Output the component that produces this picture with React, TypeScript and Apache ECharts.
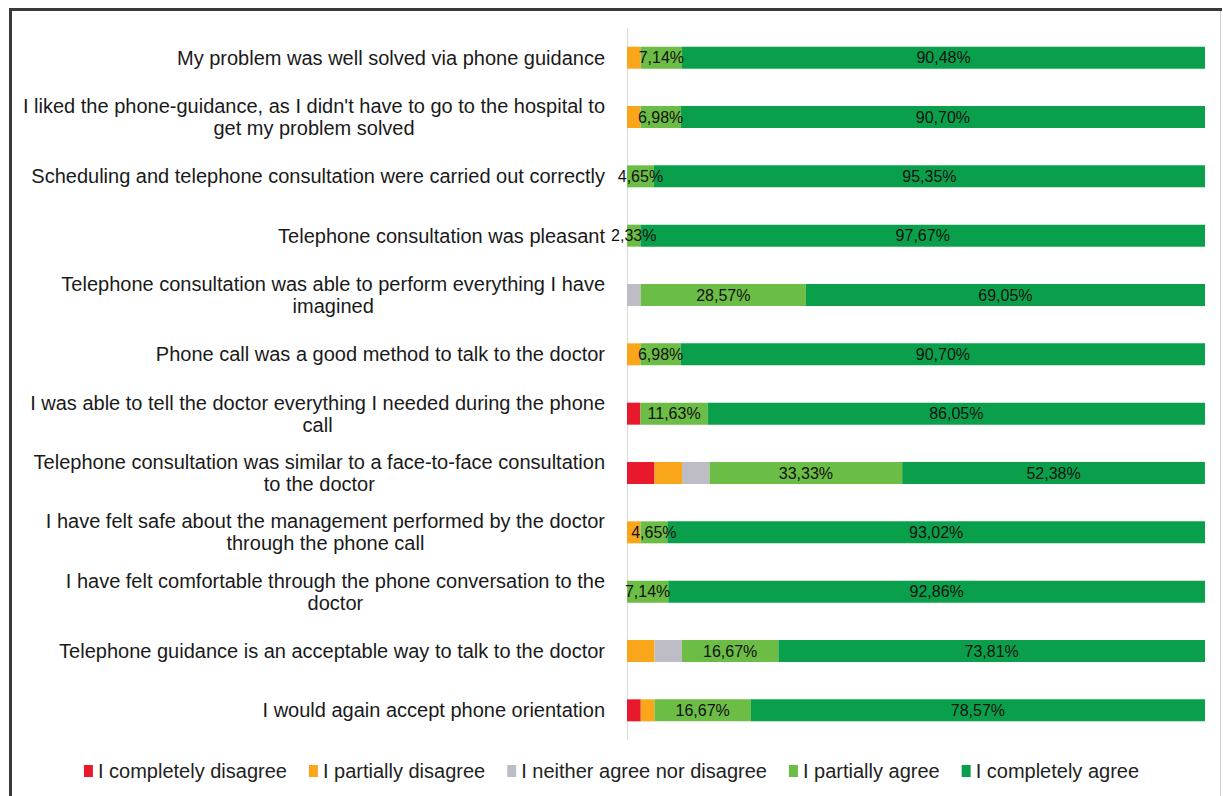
import React, { useEffect, useRef } from "react";
import * as echarts from "echarts";

const categories: string[] = [
  "My problem was well solved via phone guidance",
  "I liked the phone-guidance, as I didn't have to go to the hospital to\nget my problem solved",
  "Scheduling and telephone consultation were carried out correctly",
  "Telephone consultation was pleasant",
  "Telephone consultation was able to perform everything I have\nimagined",
  "Phone call was a good method to talk to the doctor",
  "I was able to tell the doctor everything I needed during the phone\ncall",
  "Telephone consultation was similar to a face-to-face consultation\nto the doctor",
  "I have felt safe about the management performed by the doctor\nthrough the phone call",
  "I have felt comfortable through the phone conversation to the\ndoctor",
  "Telephone guidance is an acceptable way to talk to the doctor",
  "I would again accept phone orientation",
];

const seriesNames: string[] = [
  "I completely disagree",
  "I partially disagree",
  "I neither agree nor disagree",
  "I partially agree",
  "I completely agree",
];

const completelyDisagree: number[] = [0, 0, 0, 0, 0, 0, 2.33, 4.76, 0, 0, 0, 2.38];
const partiallyDisagree: number[] = [2.38, 2.33, 0, 0, 0, 2.33, 0, 4.76, 2.33, 0, 4.76, 2.38];
const neitherAgree: number[] = [0, 0, 0, 0, 2.38, 0, 0, 4.76, 0, 0, 4.76, 0];
const partiallyAgree: number[] = [7.14, 6.98, 4.65, 2.33, 28.57, 6.98, 11.63, 33.33, 4.65, 7.14, 16.67, 16.67];
const completelyAgree: number[] = [90.48, 90.7, 95.35, 97.67, 69.05, 90.7, 86.05, 52.38, 93.02, 92.86, 73.81, 78.57];

const colors: string[] = ["#E8192C", "#F9A61A", "#BEBDC5", "#6CBD45", "#0AA04B"];

const FONT = "'Liberation Sans', Arial, Helvetica, sans-serif";

export default function App() {
  const ref = useRef<HTMLDivElement>(null);
  useEffect(() => {
    if (!ref.current) return;
    const chart = echarts.init(ref.current, null, { renderer: "svg" });
    const values = [completelyDisagree, partiallyDisagree, neitherAgree, partiallyAgree, completelyAgree];
    const fmt = (v: number) => v.toFixed(2).replace(".", ",") + "%";
    chart.setOption({
      animation: false,
      color: colors,
      grid: { left: 627, right: 18, top: 28, bottom: 56, containLabel: false },
      legend: {
        bottom: 10,
        left: "center",
        icon: "rect",
        itemWidth: 9,
        itemHeight: 12,
        itemGap: 22,
        textStyle: { fontSize: 20, color: "#222", fontFamily: FONT },
        data: seriesNames,
      },
      xAxis: {
        type: "value",
        min: 0,
        max: 100,
        show: false,
      },
      yAxis: {
        type: "category",
        inverse: true,
        data: categories,
        axisLine: { show: true, lineStyle: { color: "#D9D9D9", width: 1 } },
        axisTick: { show: false },
        axisLabel: {
          margin: 22,
          align: "right",
          formatter: (val: string) =>
            val
              .split("\n")
              .map((l) => `{c|${l}}`)
              .join("\n"),
          rich: {
            c: {
              align: "center",
              fontSize: 20,
              lineHeight: 22,
              color: "#1a1a1a",
              fontFamily: FONT,
            },
          },
        },
      },
      series: seriesNames.map((name, i) => ({
        name,
        type: "bar",
        stack: "total",
        barWidth: 22,
        data: values[i],
        itemStyle: { color: colors[i] },
        label: {
          show: i >= 3,
          position: "inside",
          color: "#111",
          fontSize: 16,
          fontFamily: FONT,
          formatter: (p: any) => fmt(p.value),
        },
      })),
      graphic: [
        { type: "rect", shape: { x: 9, y: 8, width: 1213, height: 3 }, style: { fill: "#3a3a3a" } },
        { type: "rect", shape: { x: 9, y: 8, width: 3, height: 788 }, style: { fill: "#3a3a3a" } },
        { type: "rect", shape: { x: 1220, y: 11, width: 1, height: 785 }, style: { fill: "#cfcfcf" } },
      ],
    });
    return () => chart.dispose();
  }, []);
  return (
    <div
      ref={ref}
      style={{ position: "absolute", left: 0, top: 0, width: 1223, height: 796, background: "#fff" }}
    />
  );
}
